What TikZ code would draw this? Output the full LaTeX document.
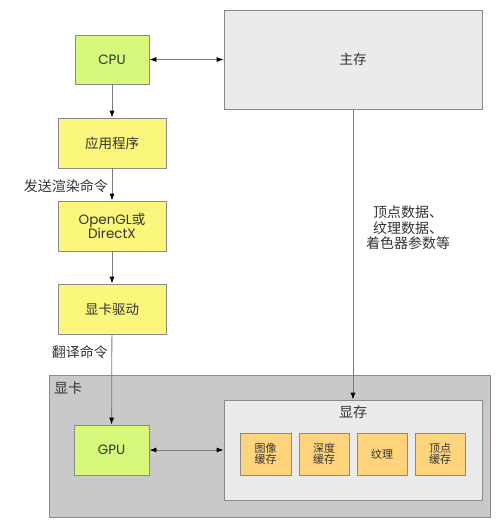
\documentclass[tikz,border=0pt]{standalone}
\usepackage{fontspec}
\setmainfont{Noto Sans CJK SC}
\newfontfamily\lat{Poppins}
\usetikzlibrary{arrows.meta}
\definecolor{bordc}{HTML}{8A8A8A}
\definecolor{linec}{HTML}{7A7A7A}
\definecolor{txtc}{HTML}{333333}
\definecolor{greenf}{HTML}{D6F97C}
\definecolor{yellowf}{HTML}{FBF77C}
\definecolor{orangef}{HTML}{FFD47C}
\definecolor{greyd}{HTML}{C9C9C9}
\definecolor{greyl}{HTML}{EBEBEB}
\tikzset{
  box/.style={draw=bordc, line width=0.8pt, text=txtc, inner sep=0pt, font=\fontsize{13.5}{13.5}\selectfont, align=center},
  gbox/.style={box, fill=greenf},
  ybox/.style={box, fill=yellowf},
  obox/.style={box, fill=orangef, font=\fontsize{11}{11.5}\selectfont},
  conn/.style={draw=linec, line width=0.8pt, -{Latex[length=7pt,width=5pt,black]}},
  bconn/.style={draw=linec, line width=0.8pt, {Latex[length=7pt,width=5pt,black]}-{Latex[length=7pt,width=5pt,black]}},
  lbl/.style={text=txtc, font=\fontsize{14}{15.5}\selectfont, inner sep=0pt, align=center}
}
\begin{document}
\begin{tikzpicture}[x=1pt,y=-1pt]
\useasboundingbox (0,0) rectangle (500,527);
% boxes
\node[gbox, minimum width=74pt, minimum height=49pt] (cpu) at (112,59.5) {\lat CPU};
\node[box, fill=greyl, minimum width=258pt, minimum height=99pt] (mem) at (353,59.5) {主存};
\node[ybox, minimum width=108pt, minimum height=50pt] (app) at (112,143) {应用程序};
\node[ybox, minimum width=108pt, minimum height=50pt] (ogl) at (112,226) {{\lat OpenGL}或\\{\lat DirectX}};
\node[ybox, minimum width=108pt, minimum height=50pt] (drv) at (112,309) {显卡驱动};
\node[box, fill=greyd, minimum width=441pt, minimum height=142pt] (card) at (269.5,446) {};
\node[lbl, anchor=west] (cardl) at (54,388) {显卡};
\node[gbox, minimum width=75pt, minimum height=50pt] (gpu) at (111.5,450) {\lat GPU};
\node[box, fill=greyl, minimum width=258pt, minimum height=100pt] (vram) at (353,450) {};
\node[lbl] (vraml) at (353,412) {显存};
\node[obox, minimum width=51pt, minimum height=42pt] (b1) at (265.5,454) {图像\\缓存};
\node[obox, minimum width=50pt, minimum height=42pt] (b2) at (324,454) {深度\\缓存};
\node[obox, minimum width=50pt, minimum height=42pt] (b3) at (382,454) {纹理};
\node[obox, minimum width=50pt, minimum height=42pt] (b4) at (440,454) {顶点\\缓存};
% connectors
\draw[bconn] (cpu) -- (mem);
\draw[conn] (cpu) -- (app);
\draw[conn] (app) -- (ogl);
\draw[conn] (ogl) -- (drv);
\draw[conn] (drv) -- (gpu);
\draw[conn] (mem) -- (vram);
\draw[bconn] (gpu) -- (vram);
% labels
\node[lbl, anchor=east] (l1) at (108,186) {发送渲染命令};
\node[lbl, anchor=east] (l2) at (108,352) {翻译命令};
\node[lbl] (l3) at (408,228) {顶点数据、\\纹理数据、\\着色器参数等};
\end{tikzpicture}
\end{document}
